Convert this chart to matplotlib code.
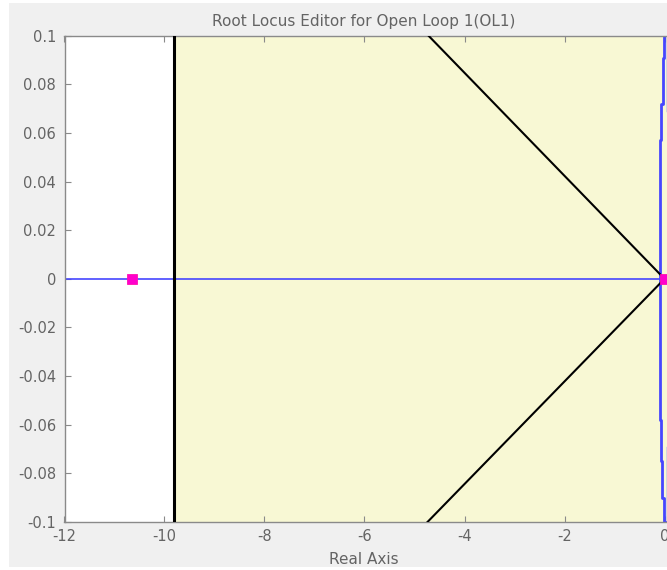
import matplotlib
matplotlib.use("Agg")
import matplotlib.pyplot as plt
from matplotlib.patches import Rectangle

# Root locus data (real axis vs imaginary axis)
x_ticks = [-12, -10, -8, -6, -4, -2, 0]
y_ticks = [-0.1, -0.08, -0.06, -0.04, -0.02, 0, 0.02, 0.04, 0.06, 0.08, 0.1]
y_tick_labels = ["-0.1", "-0.08", "-0.06", "-0.04", "-0.02", "0",
                 "0.02", "0.04", "0.06", "0.08", "0.1"]

# open-loop poles
pole_re = [-10.65, 0.0]
pole_im = [0.0, 0.0]

# settling-time constraint (vertical boundary)
settling_re = -9.8

# damping-ratio constraint lines
damp_re = [-4.72, 0.0, -4.74]
damp_im = [0.1, 0.0, -0.1]

# locus branches
real_axis_re = [-12.0, 0.5]
real_axis_im = [0.0, 0.0]
branch1_re = [-0.01, -0.02, -0.06, -0.086, -0.086, -0.06, -0.035, -0.0]
branch1_im = [0.1, 0.091, 0.072, 0.057, -0.058, -0.075, -0.09, -0.1]
branch2_re = [0.04, 0.04]
branch2_im = [0.1, 0.069]
branch3_re = [0.04, 0.04]
branch3_im = [-0.069, -0.1]

W, H = 667, 570
fig = plt.figure(figsize=(W / 100, H / 100), dpi=100, facecolor="white")
fig.patches.append(Rectangle((9 / W, 3 / H), 1, 1 - 6 / H, transform=fig.transFigure,
                             facecolor="#f0f0f0", edgecolor="none", zorder=-10))

left_px, right_px = 64.5, 674.5
top_px, bottom_px = 35.7, 522
ax = fig.add_axes([left_px / W, (H - bottom_px) / H,
                   (right_px - left_px) / W, (bottom_px - top_px) / H])
ax.set_xlim(-12, 0.2)
ax.set_ylim(-0.1, 0.1)
ax.set_facecolor("white")

txt = "#646464"
edge = "#8a8a8a"
blue = "#4646ff"

# shaded design region
ax.axvspan(settling_re, 0.2, color="#f8f8d4", zorder=0, lw=0)

ax.plot(real_axis_re, real_axis_im, color=blue, lw=1.2, zorder=2)
ax.plot(branch1_re, branch1_im, color=blue, lw=2.0, zorder=2, drawstyle="steps-mid")
ax.plot(branch2_re, branch2_im, color=blue, lw=1.0, zorder=2)
ax.plot(branch3_re, branch3_im, color=blue, lw=1.0, zorder=2)

ax.axvline(settling_re, color="black", lw=2.2, zorder=3)
ax.plot(damp_re, damp_im, color="black", lw=1.5, zorder=3)

ax.plot(pole_re, pole_im, linestyle="none", marker="s", markersize=7,
        markerfacecolor="#ff00cc", markeredgecolor="#ff10b0", markeredgewidth=0.6, zorder=4)

ax.set_xticks(x_ticks)
ax.set_xticklabels([str(v) for v in x_ticks])
ax.set_yticks(y_ticks)
ax.set_yticklabels(y_tick_labels)
ax.tick_params(direction="in", length=4, width=0.8, color=edge, labelcolor=txt,
               labelsize=10.5, top=True, right=True, pad=6)
ax.tick_params(axis="x", pad=5)
for s in ax.spines.values():
    s.set_color(edge)
    s.set_linewidth(1.0)

ax.set_title("Root Locus Editor for Open Loop 1(OL1)", color=txt, fontsize=11, pad=7,
             x=(364 - left_px) / (right_px - left_px))
ax.set_xlabel("Real Axis", color=txt, fontsize=11, labelpad=2)
ax.xaxis.set_label_coords((364 - left_px) / (right_px - left_px), -0.062)

fig.savefig("out.png", dpi=100, facecolor=fig.get_facecolor())
